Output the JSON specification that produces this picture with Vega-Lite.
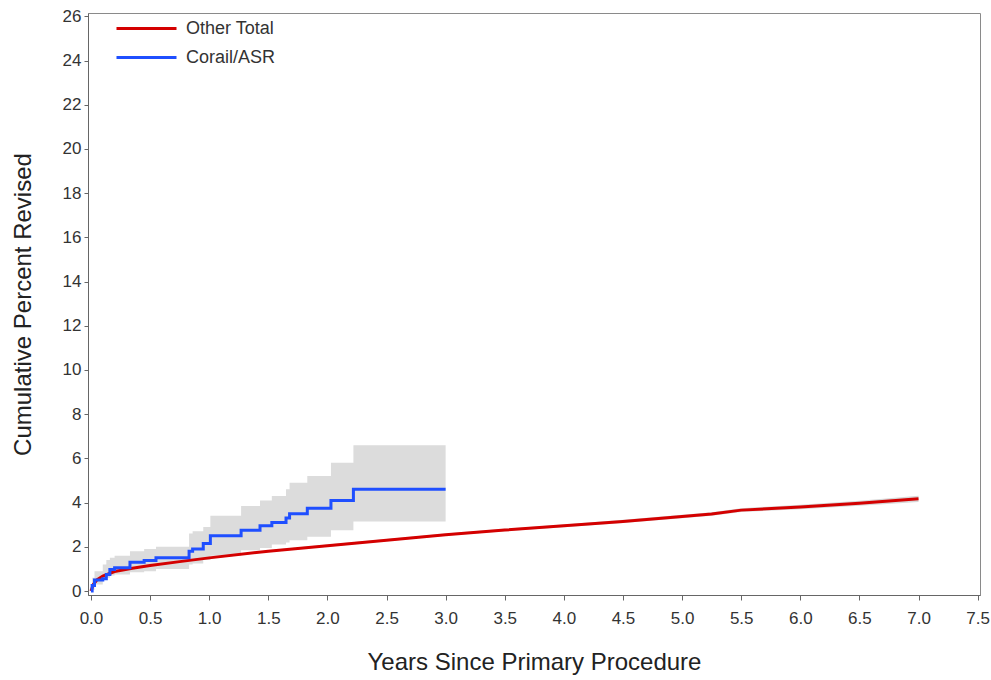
{
  "$schema": "https://vega.github.io/schema/vega-lite/v6.json",
  "width": 892,
  "height": 582,
  "autosize": {"type": "none"},
  "padding": {"left": 88, "top": 13, "right": 11, "bottom": 85},
  "background": "white",
  "config": {
    "view": {"stroke": "#8a8a8a", "strokeWidth": 1},
    "font": "Liberation Sans",
    "axis": {
      "labelFont": "Liberation Sans",
      "titleFont": "Liberation Sans",
      "labelColor": "#333",
      "titleColor": "#222",
      "domainColor": "#666",
      "tickColor": "#666",
      "grid": false,
      "labelFontSize": 17,
      "titleFontSize": 24,
      "titleFontWeight": "normal"
    }
  },
  "datasets": {
    "curves": [
      {"series": "Corail/ASR", "x": 0.0, "y": 0.0, "lo": 0.0, "hi": 0.0},
      {"series": "Corail/ASR", "x": 0.01, "y": 0.25, "lo": 0.05, "hi": 0.6},
      {"series": "Corail/ASR", "x": 0.03, "y": 0.5, "lo": 0.3, "hi": 0.9},
      {"series": "Corail/ASR", "x": 0.1, "y": 0.55, "lo": 0.5, "hi": 1.2},
      {"series": "Corail/ASR", "x": 0.13, "y": 0.75, "lo": 0.6, "hi": 1.4},
      {"series": "Corail/ASR", "x": 0.16, "y": 0.97, "lo": 0.7, "hi": 1.5},
      {"series": "Corail/ASR", "x": 0.2, "y": 1.05, "lo": 0.75, "hi": 1.6},
      {"series": "Corail/ASR", "x": 0.33, "y": 1.3, "lo": 0.85, "hi": 1.8},
      {"series": "Corail/ASR", "x": 0.45, "y": 1.38, "lo": 0.9, "hi": 1.9},
      {"series": "Corail/ASR", "x": 0.55, "y": 1.5, "lo": 1.0, "hi": 2.0},
      {"series": "Corail/ASR", "x": 0.83, "y": 1.8, "lo": 1.2, "hi": 2.6},
      {"series": "Corail/ASR", "x": 0.86, "y": 1.9, "lo": 1.25, "hi": 2.7},
      {"series": "Corail/ASR", "x": 0.95, "y": 2.15, "lo": 1.4, "hi": 2.9},
      {"series": "Corail/ASR", "x": 1.01, "y": 2.5, "lo": 1.6, "hi": 3.4},
      {"series": "Corail/ASR", "x": 1.27, "y": 2.75, "lo": 1.85, "hi": 3.85},
      {"series": "Corail/ASR", "x": 1.43, "y": 2.95, "lo": 1.95, "hi": 4.1},
      {"series": "Corail/ASR", "x": 1.53, "y": 3.1, "lo": 2.1, "hi": 4.3},
      {"series": "Corail/ASR", "x": 1.65, "y": 3.3, "lo": 2.2, "hi": 4.6},
      {"series": "Corail/ASR", "x": 1.68, "y": 3.5, "lo": 2.3, "hi": 4.9},
      {"series": "Corail/ASR", "x": 1.83, "y": 3.75, "lo": 2.45, "hi": 5.2},
      {"series": "Corail/ASR", "x": 2.03, "y": 4.1, "lo": 2.75, "hi": 5.8},
      {"series": "Corail/ASR", "x": 2.22, "y": 4.6, "lo": 3.15, "hi": 6.6},
      {"series": "Corail/ASR", "x": 3.0, "y": 4.6, "lo": 3.15, "hi": 6.6},
      {"series": "Other Total", "x": 0.0, "y": 0.0, "lo": 0.0, "hi": 0.0},
      {"series": "Other Total", "x": 0.02, "y": 0.3, "lo": 0.27, "hi": 0.33},
      {"series": "Other Total", "x": 0.05, "y": 0.5, "lo": 0.47, "hi": 0.53},
      {"series": "Other Total", "x": 0.1, "y": 0.68, "lo": 0.65, "hi": 0.71},
      {"series": "Other Total", "x": 0.2, "y": 0.88, "lo": 0.85, "hi": 0.91},
      {"series": "Other Total", "x": 0.35, "y": 1.03, "lo": 1.0, "hi": 1.06},
      {"series": "Other Total", "x": 0.5, "y": 1.15, "lo": 1.12, "hi": 1.18},
      {"series": "Other Total", "x": 0.75, "y": 1.33, "lo": 1.3, "hi": 1.36},
      {"series": "Other Total", "x": 1.0, "y": 1.5, "lo": 1.46, "hi": 1.54},
      {"series": "Other Total", "x": 1.5, "y": 1.8, "lo": 1.76, "hi": 1.84},
      {"series": "Other Total", "x": 2.0, "y": 2.05, "lo": 2.0, "hi": 2.1},
      {"series": "Other Total", "x": 2.5, "y": 2.3, "lo": 2.25, "hi": 2.35},
      {"series": "Other Total", "x": 3.0, "y": 2.55, "lo": 2.5, "hi": 2.6},
      {"series": "Other Total", "x": 3.5, "y": 2.76, "lo": 2.7, "hi": 2.82},
      {"series": "Other Total", "x": 4.0, "y": 2.95, "lo": 2.89, "hi": 3.01},
      {"series": "Other Total", "x": 4.5, "y": 3.15, "lo": 3.08, "hi": 3.22},
      {"series": "Other Total", "x": 5.0, "y": 3.37, "lo": 3.29, "hi": 3.45},
      {"series": "Other Total", "x": 5.25, "y": 3.48, "lo": 3.4, "hi": 3.56},
      {"series": "Other Total", "x": 5.5, "y": 3.66, "lo": 3.57, "hi": 3.75},
      {"series": "Other Total", "x": 6.0, "y": 3.8, "lo": 3.7, "hi": 3.9},
      {"series": "Other Total", "x": 6.5, "y": 3.97, "lo": 3.86, "hi": 4.08},
      {"series": "Other Total", "x": 7.0, "y": 4.17, "lo": 4.03, "hi": 4.31}
    ]
  },
  "data": {"name": "curves"},
  "layer": [
    {
      "transform": [{"filter": "datum.series === 'Corail/ASR'"}],
      "mark": {"type": "area", "interpolate": "step-after", "color": "#dcdcdc"},
      "encoding": {
        "x": {"field": "x", "type": "quantitative"},
        "y": {"field": "lo", "type": "quantitative"},
        "y2": {"field": "hi"}
      }
    },
    {
      "transform": [{"filter": "datum.series === 'Other Total'"}],
      "mark": {"type": "area", "color": "#d8d8d8"},
      "encoding": {
        "x": {"field": "x", "type": "quantitative"},
        "y": {"field": "lo", "type": "quantitative"},
        "y2": {"field": "hi"}
      }
    },
    {
      "transform": [{"filter": "datum.series === 'Other Total'"}],
      "mark": {"type": "line", "strokeWidth": 3},
      "encoding": {
        "x": {"field": "x", "type": "quantitative"},
        "y": {"field": "y", "type": "quantitative"},
        "color": {"field": "series", "type": "nominal"}
      }
    },
    {
      "transform": [{"filter": "datum.series === 'Corail/ASR'"}],
      "mark": {"type": "line", "interpolate": "step-after", "strokeWidth": 3},
      "encoding": {
        "x": {
          "field": "x", "type": "quantitative",
          "scale": {"domain": [-0.025, 7.52], "nice": false, "zero": false},
          "axis": {
            "title": "Years Since Primary Procedure",
            "values": [0, 0.5, 1, 1.5, 2, 2.5, 3, 3.5, 4, 4.5, 5, 5.5, 6, 6.5, 7, 7.5],
            "format": ".1f",
            "tickSize": 5,
            "labelPadding": 10,
            "titlePadding": 24
          }
        },
        "y": {
          "field": "y", "type": "quantitative",
          "scale": {"domain": [-0.18, 26.15], "nice": false, "zero": false},
          "axis": {
            "title": "Cumulative Percent Revised",
            "values": [0, 2, 4, 6, 8, 10, 12, 14, 16, 18, 20, 22, 24, 26],
            "tickSize": 4,
            "labelPadding": 3,
            "titlePadding": 27
          }
        },
        "color": {
          "field": "series", "type": "nominal",
          "scale": {"domain": ["Other Total", "Corail/ASR"], "range": ["#d40000", "#1f4fff"]},
          "legend": {
            "title": null,
            "orient": "none",
            "legendX": 27,
            "legendY": 5,
            "padding": 0,
            "symbolType": "stroke",
            "symbolSize": 3600,
            "symbolStrokeWidth": 3,
            "labelFontSize": 18,
            "labelColor": "#333",
            "labelFont": "Liberation Sans",
            "labelOffset": 8,
            "rowPadding": 8,
            "clipHeight": 21
          }
        }
      }
    }
  ]
}
